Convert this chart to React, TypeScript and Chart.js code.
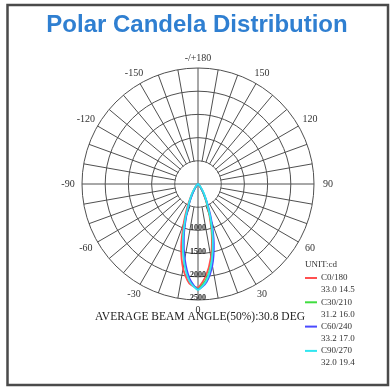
import { useEffect, useRef } from 'react';
import { Chart, registerables } from 'chart.js';

Chart.register(...registerables);

// Angle categories: measured clockwise on screen from nadir (0°), 5° step.
const angleCategories: number[] = Array.from({ length: 72 }, (_, i) => i * 5);

// Angle labels every 30° (index into angleCategories -> text)
const angleLabelIndex = [0, 6, 12, 18, 24, 30, 36, 42, 48, 54, 60, 66];
const angleLabelText = ['0', '-30', '-60', '-90', '-120', '-150', '-/+180', '150', '120', '90', '60', '30'];

// Radial grid (cd) and the tick values that carry a label
const radialStep = 500;
const radialMax = 2500;
const radialTickLabels = [1000, 1500, 2000, 2500];

// Candela values (index 0 = 0°, then -5°, -10° ... going left/up, ... +10°, +5°)
const c0_180 = [
  2230, 2150, 1850, 1400, 900, 540, 300, 150, 70, 30, 12, 5,
  0, 0, 0, 0, 0, 0, 0, 0, 0, 0, 0, 0,
  0, 0, 0, 0, 0, 0, 0, 0, 0, 0, 0, 0,
  0, 0, 0, 0, 0, 0, 0, 0, 0, 0, 0, 0,
  0, 0, 0, 0, 0, 0, 0, 0, 0, 0, 0, 0,
  0, 4, 10, 25, 55, 120, 230, 420, 720, 1150, 1600, 1980,
];
const c30_210 = [
  2260, 2080, 1700, 1230, 780, 450, 240, 120, 55, 22, 8, 3,
  0, 0, 0, 0, 0, 0, 0, 0, 0, 0, 0, 0,
  0, 0, 0, 0, 0, 0, 0, 0, 0, 0, 0, 0,
  0, 0, 0, 0, 0, 0, 0, 0, 0, 0, 0, 0,
  0, 0, 0, 0, 0, 0, 0, 0, 0, 0, 0, 0,
  0, 3, 8, 22, 55, 120, 240, 450, 770, 1220, 1690, 2060,
];
const c60_240 = [
  2270, 2050, 1640, 1180, 740, 430, 230, 110, 50, 20, 8, 3,
  0, 0, 0, 0, 0, 0, 0, 0, 0, 0, 0, 0,
  0, 0, 0, 0, 0, 0, 0, 0, 0, 0, 0, 0,
  0, 0, 0, 0, 0, 0, 0, 0, 0, 0, 0, 0,
  0, 0, 0, 0, 0, 0, 0, 0, 0, 0, 0, 0,
  0, 4, 10, 25, 60, 130, 270, 500, 850, 1320, 1780, 2120,
];
const c90_270 = [
  2280, 2100, 1720, 1260, 800, 470, 290, 170, 95, 50, 20, 6,
  0, 0, 0, 0, 0, 0, 0, 0, 0, 0, 0, 0,
  0, 0, 0, 0, 0, 0, 0, 0, 0, 0, 0, 0,
  0, 0, 0, 0, 0, 0, 0, 0, 0, 0, 0, 0,
  0, 0, 0, 0, 0, 0, 0, 0, 0, 0, 0, 0,
  0, 6, 20, 50, 95, 170, 290, 460, 790, 1240, 1700, 2090,
];

const seriesNames = ['C0/180', 'C30/210', 'C60/240', 'C90/270'];
const seriesValuesText = ['33.0 14.5', '31.2 16.0', '33.2 17.0', '32.0 19.4'];
const seriesColors = ['#ff5050', '#40dd40', '#4a4aff', '#30e6f0'];

const titleText = 'Polar Candela Distribution';
const unitText = 'UNIT:cd';
const captionText = 'AVERAGE BEAM ANGLE(50%):30.8 DEG';

const GRID = '#505050';
const SERIF = '"Liberation Serif", "Times New Roman", serif';

export default function App() {
  const ref = useRef<HTMLCanvasElement>(null);

  useEffect(() => {
    const decor = {
      id: 'decor',
      beforeDraw(chart: any) {
        const ctx = chart.ctx;
        ctx.save();
        ctx.fillStyle = '#ffffff';
        ctx.fillRect(0, 0, chart.width, chart.height);
        ctx.restore();
      },
      beforeDatasetsDraw(chart: any) {
        const ctx = chart.ctx;
        const s = chart.scales.r;
        const r1 = s.getDistanceFromCenterForValue(radialStep);
        ctx.save();
        ctx.beginPath();
        ctx.arc(s.xCenter, s.yCenter, r1 - 0.6, 0, Math.PI * 2);
        ctx.fillStyle = '#ffffff';
        ctx.fill();
        ctx.strokeStyle = GRID;
        ctx.lineWidth = 1;
        ctx.beginPath();
        ctx.moveTo(s.xCenter - r1, s.yCenter);
        ctx.lineTo(s.xCenter + r1, s.yCenter);
        ctx.moveTo(s.xCenter, s.yCenter - r1);
        ctx.lineTo(s.xCenter, s.yCenter + r1);
        ctx.stroke();
        ctx.restore();
      },
      afterDraw(chart: any) {
        const ctx = chart.ctx;
        const s = chart.scales.r;
        ctx.save();
        // frame
        ctx.strokeStyle = '#4a4a4a';
        ctx.lineWidth = 2.5;
        ctx.strokeRect(7.5, 5, 380.5, 380);
        // title
        ctx.fillStyle = '#2f7fd1';
        ctx.font = 'bold 24px "Liberation Sans", Arial, sans-serif';
        ctx.textAlign = 'center';
        ctx.textBaseline = 'alphabetic';
        ctx.fillText(titleText, 197, 32);
        // radial tick labels along nadir axis
        ctx.fillStyle = '#222';
        ctx.font = `bold 8px ${SERIF}`;
        ctx.textAlign = 'center';
        ctx.textBaseline = 'middle';
        radialTickLabels.forEach((v) => {
          const p = s.getPointPositionForValue(0, v);
          ctx.fillText(String(v), p.x, p.y - 2);
        });
        // angle labels
        ctx.font = `10px ${SERIF}`;
        ctx.fillStyle = '#333';
        angleLabelIndex.forEach((idx, k) => {
          const a = (angleCategories[idx] * Math.PI) / 180;
          const dist = s.drawingArea + 10 + Math.abs(Math.sin(a)) * 4;
          const p = s.getPointPosition(idx, dist);
          ctx.fillText(angleLabelText[k], p.x, p.y);
        });
        // caption
        ctx.font = `11.5px ${SERIF}`;
        ctx.fillStyle = '#222';
        ctx.fillText(captionText, 200, 317);
        // legend
        ctx.font = `9px ${SERIF}`;
        ctx.textAlign = 'left';
        ctx.fillStyle = '#333';
        ctx.fillText(unitText, 305, 265);
        seriesNames.forEach((name, i) => {
          const y = 278 + i * 24.3;
          ctx.strokeStyle = seriesColors[i];
          ctx.lineWidth = 2;
          ctx.beginPath();
          ctx.moveTo(305, y);
          ctx.lineTo(317, y);
          ctx.stroke();
          ctx.fillStyle = '#333';
          ctx.fillText(name, 321, y);
          ctx.fillText(seriesValuesText[i], 321, y + 12);
        });
        ctx.restore();
      },
    };

    const allValues = [c0_180, c30_210, c60_240, c90_270];
    const chart = new Chart(ref.current!, {
      type: 'radar',
      data: {
        labels: angleCategories.map(String),
        datasets: allValues.map((vals, i) => ({
          label: seriesNames[i],
          data: vals,
          borderColor: seriesColors[i],
          backgroundColor: 'transparent',
          borderWidth: 1.8,
          pointRadius: 0,
          fill: false,
          tension: 0.25,
          order: 3 - i,
        })),
      },
      options: {
        animation: false,
        responsive: false,
        devicePixelRatio: 1,
        layout: { padding: { left: 82, right: 76, top: 68, bottom: 89 } },
        plugins: {
          legend: { display: false },
          title: { display: false },
          tooltip: { enabled: false },
        },
        scales: {
          r: {
            min: 0,
            max: radialMax,
            startAngle: 180,
            ticks: { display: false, stepSize: radialStep },
            pointLabels: { display: false },
            grid: { circular: true, color: GRID, lineWidth: 1 },
            angleLines: {
              color: GRID,
              lineWidth: (c: any) => (c.index % 2 === 0 ? 1 : 0),
            },
          },
        },
      },
      plugins: [decor],
    } as any);
    return () => chart.destroy();
  }, []);

  return (
    <div style={{ position: 'fixed', left: 0, top: 0, width: 390, height: 389, background: '#fff' }}>
      <canvas ref={ref} width={390} height={389} style={{ display: 'block', width: 390, height: 389 }} />
    </div>
  );
}
